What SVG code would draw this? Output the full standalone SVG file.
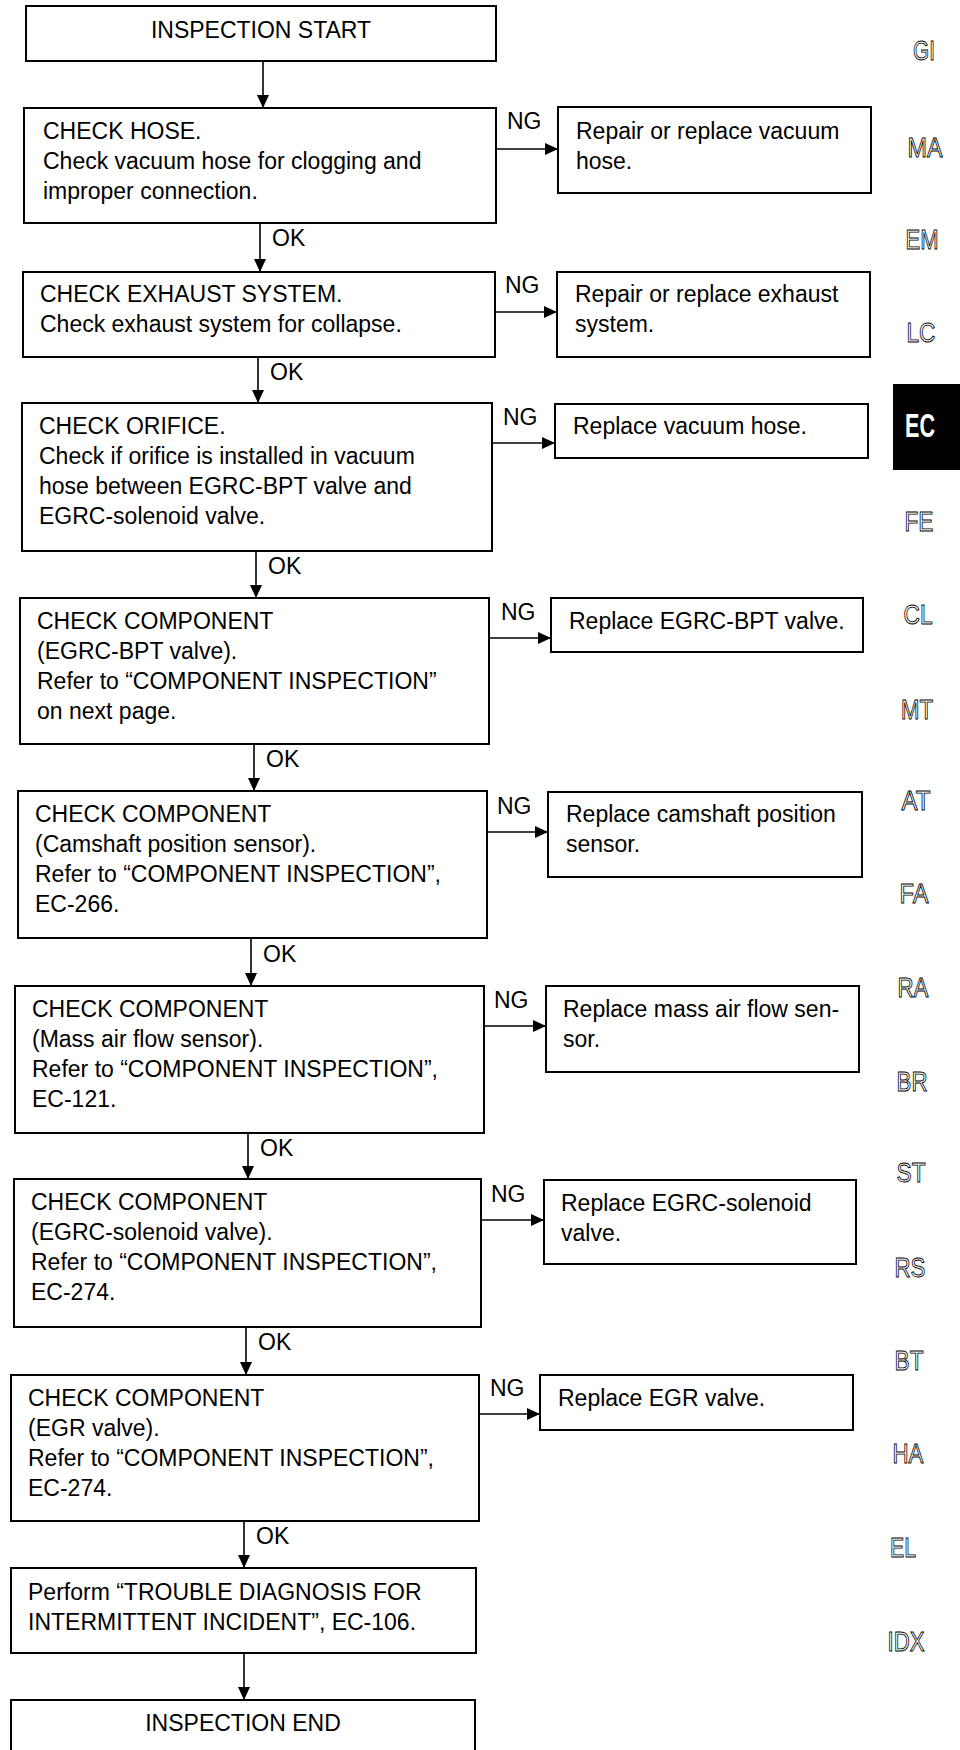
<svg xmlns="http://www.w3.org/2000/svg" width="960" height="1750" viewBox="0 0 960 1750">
<style>
.box{fill:#fff;stroke:#000;stroke-width:2}
.t{font-family:"Liberation Sans",Arial,sans-serif;font-size:23px;fill:#000}
.c{text-anchor:middle}
.ln{stroke:#000;stroke-width:1.6;fill:none;marker-end:url(#ah)}
.tab{font-family:"Liberation Sans",Arial,sans-serif;font-size:27px;fill:#fff;stroke:#000;stroke-width:0.9;text-anchor:middle}
.ec{font-family:"Liberation Sans",Arial,sans-serif;font-size:33px;font-weight:bold;fill:#fff;text-anchor:middle}
</style>
<defs>
<marker id="ah" markerUnits="userSpaceOnUse" markerWidth="13" markerHeight="12" refX="13" refY="6" orient="auto">
<path d="M0,0 L13,6 L0,12 z" fill="#000"/>
</marker>
</defs>
<rect width="960" height="1750" fill="#fff"/>

<g id="start"><rect class="box" x="26" y="6" width="470" height="55"/><text class="t c" x="261" y="38">INSPECTION START</text></g>

<g id="check-hose"><rect class="box" x="24" y="108" width="472" height="115"/>
<text class="t" x="43" y="139">CHECK HOSE.</text>
<text class="t" x="43" y="169">Check vacuum hose for clogging and</text>
<text class="t" x="43" y="199">improper connection.</text></g>
<g id="repair-hose"><rect class="box" x="558" y="107" width="313" height="86"/>
<text class="t" x="576" y="139">Repair or replace vacuum</text>
<text class="t" x="576" y="169">hose.</text></g>

<g id="check-exhaust"><rect class="box" x="23" y="272" width="472" height="85"/>
<text class="t" x="40" y="302">CHECK EXHAUST SYSTEM.</text>
<text class="t" x="40" y="332">Check exhaust system for collapse.</text></g>
<g id="repair-exhaust"><rect class="box" x="557" y="272" width="313" height="85"/>
<text class="t" x="575" y="302">Repair or replace exhaust</text>
<text class="t" x="575" y="332">system.</text></g>

<g id="check-orifice"><rect class="box" x="22" y="403" width="470" height="148"/>
<text class="t" x="39" y="434">CHECK ORIFICE.</text>
<text class="t" x="39" y="464">Check if orifice is installed in vacuum</text>
<text class="t" x="39" y="494">hose between EGRC-BPT valve and</text>
<text class="t" x="39" y="524">EGRC-solenoid valve.</text></g>
<g id="replace-vacuum"><rect class="box" x="555" y="404" width="313" height="54"/>
<text class="t" x="573" y="434">Replace vacuum hose.</text></g>

<g id="check-bpt"><rect class="box" x="20" y="598" width="469" height="146"/>
<text class="t" x="37" y="629">CHECK COMPONENT</text>
<text class="t" x="37" y="659">(EGRC-BPT valve).</text>
<text class="t" x="37" y="689">Refer to “COMPONENT INSPECTION”</text>
<text class="t" x="37" y="719">on next page.</text></g>
<g id="replace-bpt"><rect class="box" x="551" y="598" width="312" height="54"/>
<text class="t" x="569" y="629">Replace EGRC-BPT valve.</text></g>

<g id="check-cam"><rect class="box" x="18" y="791" width="469" height="147"/>
<text class="t" x="35" y="822">CHECK COMPONENT</text>
<text class="t" x="35" y="852">(Camshaft position sensor).</text>
<text class="t" x="35" y="882">Refer to “COMPONENT INSPECTION”,</text>
<text class="t" x="35" y="912">EC-266.</text></g>
<g id="replace-cam"><rect class="box" x="548" y="792" width="314" height="85"/>
<text class="t" x="566" y="822">Replace camshaft position</text>
<text class="t" x="566" y="852">sensor.</text></g>

<g id="check-maf"><rect class="box" x="15" y="986" width="469" height="147"/>
<text class="t" x="32" y="1017">CHECK COMPONENT</text>
<text class="t" x="32" y="1047">(Mass air flow sensor).</text>
<text class="t" x="32" y="1077">Refer to “COMPONENT INSPECTION”,</text>
<text class="t" x="32" y="1107">EC-121.</text></g>
<g id="replace-maf"><rect class="box" x="546" y="986" width="313" height="86"/>
<text class="t" x="563" y="1017">Replace mass air flow sen-</text>
<text class="t" x="563" y="1047">sor.</text></g>

<g id="check-solenoid"><rect class="box" x="14" y="1179" width="467" height="148"/>
<text class="t" x="31" y="1210">CHECK COMPONENT</text>
<text class="t" x="31" y="1240">(EGRC-solenoid valve).</text>
<text class="t" x="31" y="1270">Refer to “COMPONENT INSPECTION”,</text>
<text class="t" x="31" y="1300">EC-274.</text></g>
<g id="replace-solenoid"><rect class="box" x="544" y="1180" width="312" height="84"/>
<text class="t" x="561" y="1211">Replace EGRC-solenoid</text>
<text class="t" x="561" y="1241">valve.</text></g>

<g id="check-egr"><rect class="box" x="11" y="1375" width="468" height="146"/>
<text class="t" x="28" y="1406">CHECK COMPONENT</text>
<text class="t" x="28" y="1436">(EGR valve).</text>
<text class="t" x="28" y="1466">Refer to “COMPONENT INSPECTION”,</text>
<text class="t" x="28" y="1496">EC-274.</text></g>
<g id="replace-egr"><rect class="box" x="540" y="1375" width="313" height="55"/>
<text class="t" x="558" y="1406">Replace EGR valve.</text></g>

<g id="perform"><rect class="box" x="11" y="1568" width="465" height="85"/>
<text class="t" x="28" y="1600">Perform “TROUBLE DIAGNOSIS FOR</text>
<text class="t" x="28" y="1630">INTERMITTENT INCIDENT”, EC-106.</text></g>

<g id="end"><rect class="box" x="11" y="1700" width="464" height="60"/>
<text class="t c" x="243" y="1731">INSPECTION END</text></g>

<g id="connectors">
<line class="ln" x1="263" y1="61" x2="263" y2="108"/>
<line class="ln" x1="260" y1="223" x2="260" y2="272"/>
<line class="ln" x1="258" y1="357" x2="258" y2="403"/>
<line class="ln" x1="256" y1="551" x2="256" y2="598"/>
<line class="ln" x1="254" y1="744" x2="254" y2="791"/>
<line class="ln" x1="251" y1="938" x2="251" y2="986"/>
<line class="ln" x1="248" y1="1133" x2="248" y2="1179"/>
<line class="ln" x1="246" y1="1327" x2="246" y2="1375"/>
<line class="ln" x1="244" y1="1521" x2="244" y2="1568"/>
<line class="ln" x1="244" y1="1653" x2="244" y2="1700"/>
<line class="ln" x1="496" y1="149" x2="558" y2="149"/>
<line class="ln" x1="495" y1="312" x2="557" y2="312"/>
<line class="ln" x1="492" y1="443" x2="555" y2="443"/>
<line class="ln" x1="489" y1="638" x2="551" y2="638"/>
<line class="ln" x1="487" y1="832" x2="548" y2="832"/>
<line class="ln" x1="484" y1="1026" x2="546" y2="1026"/>
<line class="ln" x1="481" y1="1220" x2="544" y2="1220"/>
<line class="ln" x1="479" y1="1414" x2="540" y2="1414"/>
<text class="t" x="272" y="246">OK</text>
<text class="t" x="270" y="380">OK</text>
<text class="t" x="268" y="574">OK</text>
<text class="t" x="266" y="767">OK</text>
<text class="t" x="263" y="962">OK</text>
<text class="t" x="260" y="1156">OK</text>
<text class="t" x="258" y="1350">OK</text>
<text class="t" x="256" y="1544">OK</text>
<text class="t" x="507" y="129">NG</text>
<text class="t" x="505" y="293">NG</text>
<text class="t" x="503" y="425">NG</text>
<text class="t" x="501" y="620">NG</text>
<text class="t" x="497" y="814">NG</text>
<text class="t" x="494" y="1008">NG</text>
<text class="t" x="491" y="1202">NG</text>
<text class="t" x="490" y="1396">NG</text>
</g>

<g id="tabs">
<text class="tab" x="924" y="60" textLength="22" lengthAdjust="spacingAndGlyphs">GI</text>
<text class="tab" x="925" y="157" textLength="35" lengthAdjust="spacingAndGlyphs">MA</text>
<text class="tab" x="922" y="249" textLength="33" lengthAdjust="spacingAndGlyphs">EM</text>
<text class="tab" x="921" y="342" textLength="29" lengthAdjust="spacingAndGlyphs">LC</text>
<rect x="893" y="384" width="67" height="86" fill="#000"/>
<text class="ec" x="920" y="437" textLength="30" lengthAdjust="spacingAndGlyphs">EC</text>
<text class="tab" x="919" y="531" textLength="29" lengthAdjust="spacingAndGlyphs">FE</text>
<text class="tab" x="918" y="624" textLength="29" lengthAdjust="spacingAndGlyphs">CL</text>
<text class="tab" x="917" y="719" textLength="32" lengthAdjust="spacingAndGlyphs">MT</text>
<text class="tab" x="916" y="810" textLength="29" lengthAdjust="spacingAndGlyphs">AT</text>
<text class="tab" x="914" y="903" textLength="29" lengthAdjust="spacingAndGlyphs">FA</text>
<text class="tab" x="913" y="997" textLength="31" lengthAdjust="spacingAndGlyphs">RA</text>
<text class="tab" x="912" y="1091" textLength="31" lengthAdjust="spacingAndGlyphs">BR</text>
<text class="tab" x="911" y="1182" textLength="29" lengthAdjust="spacingAndGlyphs">ST</text>
<text class="tab" x="910" y="1277" textLength="31" lengthAdjust="spacingAndGlyphs">RS</text>
<text class="tab" x="909" y="1370" textLength="29" lengthAdjust="spacingAndGlyphs">BT</text>
<text class="tab" x="908" y="1463" textLength="31" lengthAdjust="spacingAndGlyphs">HA</text>
<text class="tab" x="903" y="1557" textLength="26" lengthAdjust="spacingAndGlyphs">EL</text>
<text class="tab" x="906" y="1651" textLength="37" lengthAdjust="spacingAndGlyphs">IDX</text>
</g>
</svg>
